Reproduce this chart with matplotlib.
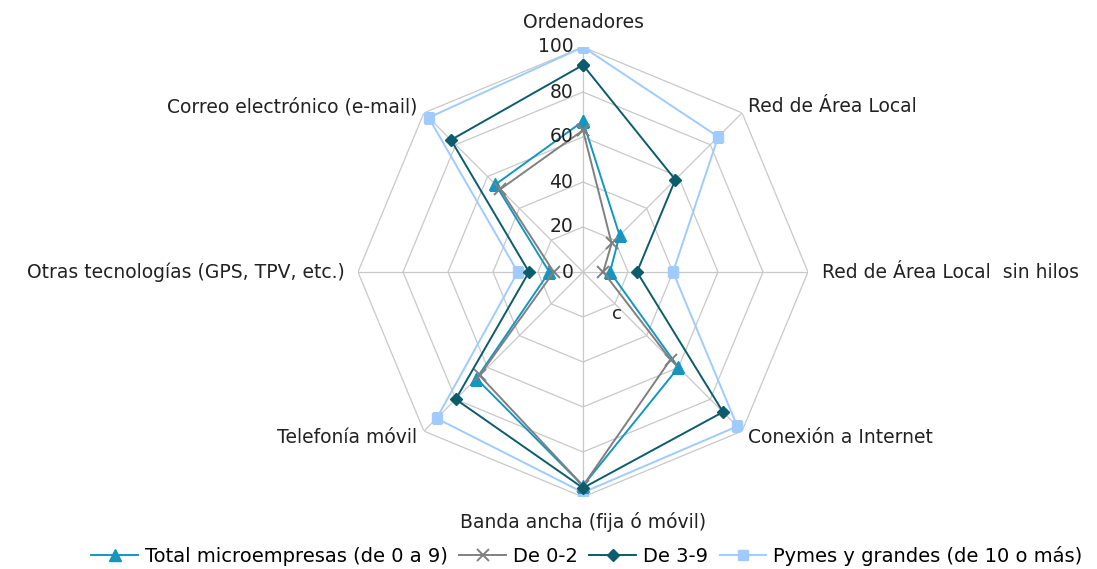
import numpy as np
import matplotlib.pyplot as plt

categories = ['Ordenadores', 'Red de Área Local', 'Red de Área Local  sin hilos',
              'Conexión a Internet', 'Banda ancha (fija ó móvil)', 'Telefonía móvil',
              'Otras tecnologías (GPS, TPV, etc.)', 'Correo electrónico (e-mail)']
total_micro = [67, 23, 12, 60, 95, 67, 15, 55]
de_0_2 = [63, 18, 9, 55, 95, 65, 13, 52]
de_3_9 = [92, 58, 24, 88, 96, 80, 24, 83]
pymes = [100, 85, 40, 97, 98, 92, 29, 97]
series_names = ['Total microempresas (de 0 a 9)', 'De 0-2', 'De 3-9',
                'Pymes y grandes (de 10 o más)']
r_ticks = [0, 20, 40, 60, 80, 100]

plt.rcParams['font.family'] = ['DejaVu Sans']
fig = plt.figure(figsize=(10.97, 5.69), dpi=100)
ax = fig.add_axes([358 / 1097, 72 / 569, 450 / 1097, 450 / 569], projection='polar')
ax.set_theta_offset(np.pi / 2)
ax.set_theta_direction(-1)
ax.set_ylim(0, 100)
ax.grid(False)
ax.spines['polar'].set_visible(False)
ax.set_xticks([])
ax.set_yticks([])

n = len(categories)
theta = np.arange(n) * 2 * np.pi / n
theta_c = np.append(theta, theta[0])

# octagonal grid
for t in r_ticks[1:]:
    ax.plot(theta_c, [t] * (n + 1), color='#c8c8c8', lw=0.9, zorder=1)
for th in theta:
    ax.plot([th, th], [0, 100], color='#c8c8c8', lw=0.9, zorder=1)

def closed(v):
    return v + v[:1]

ax.plot(theta_c, closed(total_micro), color='#1496c0', lw=1.4, marker='^', ms=8, zorder=3)
ax.plot(theta_c, closed(de_0_2), color='#808080', lw=1.4, marker='x', ms=8, mew=1.4, zorder=3)
ax.plot(theta_c, closed(de_3_9), color='#0b5c6c', lw=1.4, marker='D', ms=6.5, zorder=3)
ax.plot(theta_c, closed(pymes), color='#9fcbff', lw=1.4, marker='s', ms=7.5, zorder=2)

for t in r_ticks:
    ax.annotate(str(t), (0, t), xytext=(-7, 0), textcoords='offset points',
                ha='right', va='center', fontsize=13.5, color='#222222', zorder=5)

label_r = [111, 104, 106, 104, 111, 104, 106, 104]
label_ha = ['center', 'left', 'left', 'left', 'center', 'right', 'right', 'right']
for th, lab, r, ha in zip(theta, categories, label_r, label_ha):
    ax.text(th, r, lab, ha=ha, va='center', fontsize=13.5, color='#222222')

ax.annotate('c', (np.deg2rad(141), 24), ha='center', va='center', fontsize=13, color='#222222')

handles = ax.get_lines()[-4:]
fig.legend(handles, series_names, loc='lower center', bbox_to_anchor=(0.535, -0.025),
           ncol=4, frameon=False, fontsize=14, handlelength=2.4, handletextpad=0.35,
           columnspacing=0.6)

fig.savefig('out.png', dpi=100)
